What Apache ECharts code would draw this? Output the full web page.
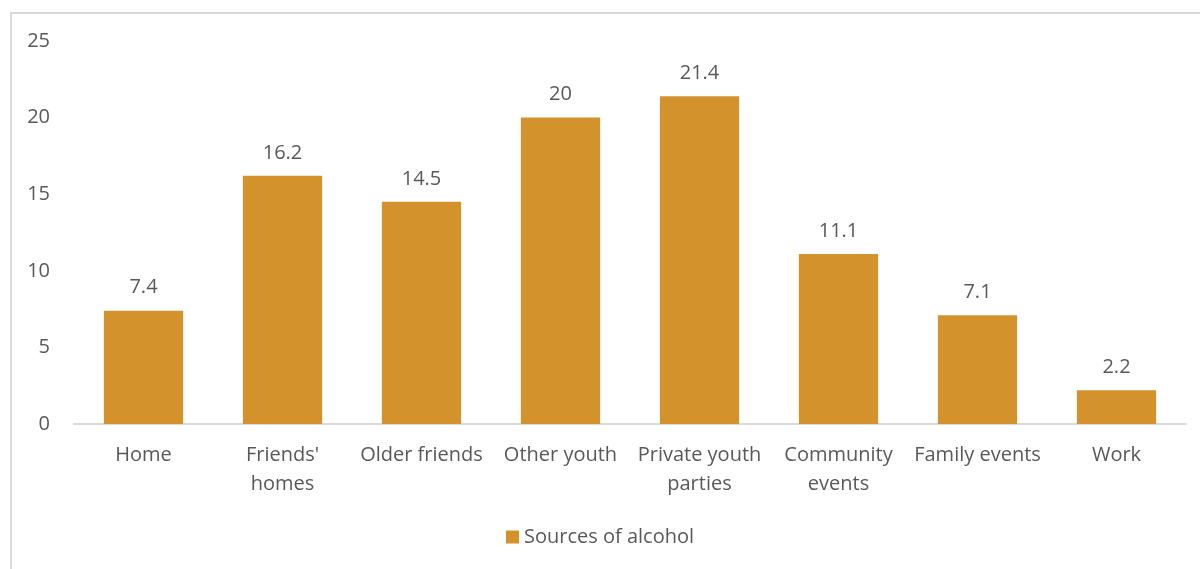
<!DOCTYPE html>
<html>
<head>
<meta charset="utf-8">
<script src="https://cdn.jsdelivr.net/npm/echarts@6/dist/echarts.min.js"></script>
<style>
  html, body { margin: 0; padding: 0; background: #fff; }
  #frame {
    position: absolute; left: 10px; top: 12px; width: 1200px; height: 600px;
    border: 2px solid #d9d9d9; box-sizing: border-box;
  }
  #chart { position: absolute; left: 0; top: 0; width: 1200px; height: 569px; }
</style>
</head>
<body>
<div id="frame"></div>
<div id="chart"></div>
<script>
// 类目与数值
const categories = ["Home", "Friends'\nhomes", "Older friends", "Other youth",
  "Private youth\nparties", "Community\nevents", "Family events", "Work"];
const sourceValues = [7.4, 16.2, 14.5, 20, 21.4, 11.1, 7.1, 2.2];
const seriesName = "Sources of alcohol";

const textColor = "#595959";
const barColor = "#D4922C";
const fontFamily = "'Open Sans', sans-serif";

const chartInstance = echarts.init(document.getElementById("chart"));
chartInstance.setOption({
  animation: false,
  textStyle: { fontFamily: fontFamily },
  grid: { left: 74, right: 14, top: 41, bottom: 145 },
  legend: {
    data: [seriesName],
    bottom: 17,
    left: "center",
    icon: "rect",
    itemWidth: 13,
    itemHeight: 13,
    itemGap: 6,
    textStyle: { color: textColor, fontSize: 20, fontFamily: fontFamily }
  },
  xAxis: {
    type: "category",
    data: categories,
    axisLine: { lineStyle: { color: "#d9d9d9", width: 2 } },
    axisTick: { show: false },
    axisLabel: {
      color: textColor, fontSize: 20, margin: 17, lineHeight: 29,
      interval: 0, fontFamily: fontFamily
    }
  },
  yAxis: {
    type: "value",
    min: 0,
    max: 25,
    interval: 5,
    splitLine: { show: false },
    axisLine: { show: false },
    axisTick: { show: false },
    axisLabel: { color: textColor, fontSize: 20, margin: 24, fontFamily: fontFamily }
  },
  series: [{
    name: seriesName,
    type: "bar",
    data: sourceValues,
    barWidth: "57%",
    itemStyle: { color: barColor },
    label: {
      show: true,
      position: "top",
      distance: 13,
      color: textColor,
      fontSize: 20,
      fontFamily: fontFamily
    }
  }]
});
</script>
</body>
</html>
